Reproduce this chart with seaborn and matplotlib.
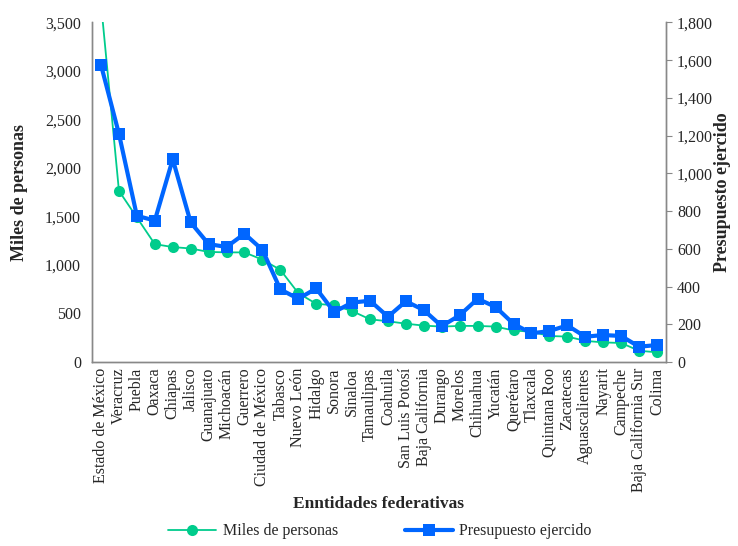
import matplotlib
matplotlib.use("Agg")
import pandas as pd
import seaborn as sns
from matplotlib import pyplot as plt
from matplotlib.ticker import FuncFormatter, MultipleLocator

estados = [
    "Estado de México", "Veracruz", "Puebla", "Oaxaca", "Chiapas", "Jalisco",
    "Guanajuato", "Michoacán", "Guerrero", "Ciudad de México", "Tabasco",
    "Nuevo León", "Hidalgo", "Sonora", "Sinaloa", "Tamaulipas", "Coahuila",
    "San Luis Potosí", "Baja California", "Durango", "Morelos", "Chihuahua",
    "Yucatán", "Querétaro", "Tlaxcala", "Quintana Roo", "Zacatecas",
    "Aguascalientes", "Nayarit", "Campeche", "Baja California Sur", "Colima",
]
# miles de personas (eje izquierdo)
personas = [
    3700, 1765, 1490, 1215, 1185, 1170, 1135, 1130, 1130, 1055, 950,
    710, 600, 585, 525, 440, 420, 395, 375, 365, 372, 372,
    365, 325, 312, 268, 262, 218, 202, 196, 116, 100,
]
# presupuesto ejercido (eje derecho)
presupuesto = [
    1575, 1210, 775, 750, 1075, 740, 625, 610, 680, 595, 385,
    335, 390, 265, 315, 325, 240, 322, 275, 190, 248, 335,
    292, 202, 152, 164, 194, 134, 143, 138, 81, 90,
]

df = pd.DataFrame({"idx": range(len(estados)), "estado": estados,
                   "personas": personas, "presupuesto": presupuesto})

sns.set_style("white")
plt.rcParams["font.family"] = ["Liberation Serif", "DejaVu Serif"]

green = "#00CC8C"
blue = "#0066FF"

fig = plt.figure(figsize=(7.38, 5.46), dpi=100)
ax = fig.add_axes([0.1247, 0.337, 0.7777, 0.6218])
ax2 = ax.twinx()

sns.lineplot(data=df, x="idx", y="personas", ax=ax, color=green, linewidth=1.3,
             marker="o", markersize=8, markeredgewidth=0, label="Miles de personas",
             legend=False)
sns.lineplot(data=df, x="idx", y="presupuesto", ax=ax2, color=blue, linewidth=3,
             marker="s", markersize=9, markeredgewidth=0, label="Presupuesto ejercido",
             legend=False)

ax.set_xlim(-0.5, len(estados) - 0.5)
ax.set_ylim(0, 3500)
ax2.set_ylim(0, 1800)
ax.yaxis.set_major_locator(MultipleLocator(500))
ax2.yaxis.set_major_locator(MultipleLocator(200))
fmt = FuncFormatter(lambda v, p: f"{int(v):,}")
ax.yaxis.set_major_formatter(fmt)
ax2.yaxis.set_major_formatter(fmt)

ax.set_xticks(df["idx"])
ax.set_xticklabels(estados, rotation=90, fontsize=11.5)
ax.tick_params(axis="x", length=0, pad=4)
ax.tick_params(axis="y", length=0, labelsize=11.5, pad=8)
ax2.tick_params(axis="y", length=4, width=0.8, color="#888888", labelsize=11.5, pad=4)

for a in (ax, ax2):
    a.spines["top"].set_visible(False)
    for s in ("left", "bottom", "right"):
        a.spines[s].set_color("#888888")
        a.spines[s].set_linewidth(1)

ax.set_xlabel("Enntidades federativas", fontsize=12.5, fontweight="bold", labelpad=3)
ax.set_ylabel("Miles de personas", fontsize=13, fontweight="bold", labelpad=12)
ax2.set_ylabel("Presupuesto ejercido", fontsize=13, fontweight="bold", labelpad=1)

h1, l1 = ax.get_legend_handles_labels()
h2, l2 = ax2.get_legend_handles_labels()
fig.legend(h1 + h2, l1 + l2, loc="lower center", bbox_to_anchor=(0.515, -0.014),
           ncol=2, frameon=False, fontsize=11.5, columnspacing=4.2,
           handlelength=3.0, handletextpad=0.4)

fig.savefig("out.png", dpi=100)
